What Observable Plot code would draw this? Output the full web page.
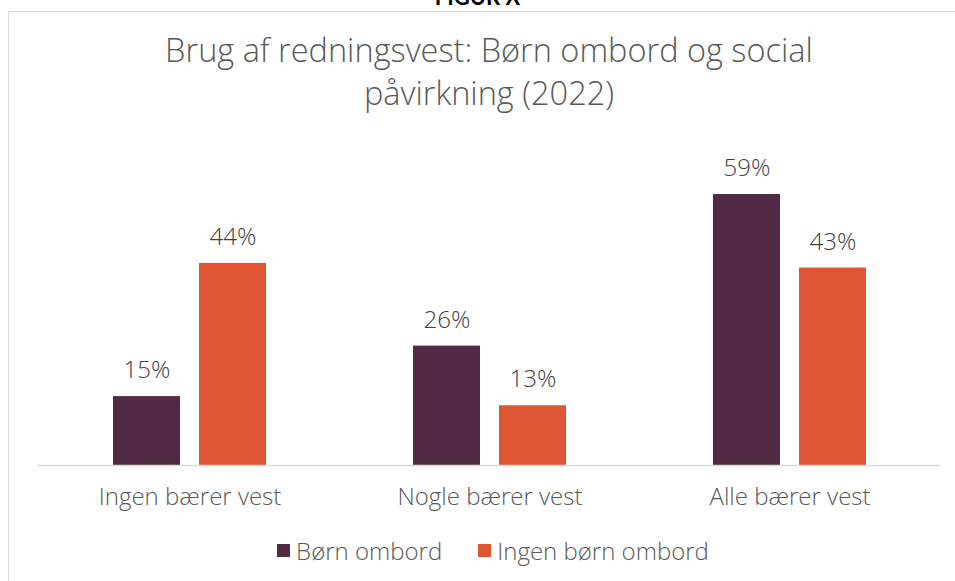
<!DOCTYPE html>
<html>
<head>
<meta charset="utf-8">
<script src="https://cdn.jsdelivr.net/npm/d3@7"></script>
<script src="https://cdn.jsdelivr.net/npm/@observablehq/plot@0.6"></script>
<style>
  html, body { margin: 0; padding: 0; background: #fff; }
  body { width: 955px; height: 581px; position: relative; overflow: hidden; font-family: "Open Sans", Lato, sans-serif; font-weight: 300; }
  #frame { position: absolute; left: 8px; top: 11px; width: 970px; height: 620px; border-top: 1.5px solid #d9d9d9; border-left: 1.5px solid #d9d9d9; }
  #fig { position: absolute; left: 0; width: 955px; top: -17px; text-align: center; font: bold 22px Lato, sans-serif; color: #000; }
  #title { position: absolute; left: 0; width: 978px; top: 28px; text-align: center; font-size: 32.5px; line-height: 43px; color: #595959; font-weight: 300; white-space: nowrap; }
  #chart { position: absolute; left: 0; top: 120px; }
  #legend { position: absolute; left: 0; width: 986px; top: 534px; display: flex; justify-content: center; gap: 36px; font-size: 24px; color: #595959; }
  .item { display: flex; align-items: center; gap: 6px; }
  .sw { width: 13px; height: 13px; display: inline-block; }
</style>
</head>
<body>
<div id="fig">FIGUR X</div>
<div id="frame"></div>
<div id="title">Brug af redningsvest: Børn ombord og social<br>påvirkning (2022)</div>
<div id="chart"></div>
<div id="legend"></div>
<script>
const categories = ["Ingen bærer vest", "Nogle bærer vest", "Alle bærer vest"];
const series = ["Børn ombord", "Ingen børn ombord"];
const bornOmbord = [15, 26, 59];
const ingenBornOmbord = [44, 13, 43];
const colors = ["#522a43", "#e05632"];

const rows1 = categories.map((c, i) => ({cat: c, value: bornOmbord[i]}));
const rows2 = categories.map((c, i) => ({cat: c, value: ingenBornOmbord[i]}));

const plot = Plot.plot({
  width: 955,
  height: 400,
  marginLeft: 38,
  marginRight: 15,
  marginTop: 23.5,
  marginBottom: 55,
  style: {fontFamily: "'Open Sans', Lato, sans-serif", fontWeight: 300, background: "transparent"},
  x: {domain: categories, paddingInner: 0.491, paddingOuter: 0.2455, axis: null},
  y: {domain: [0, 70], axis: null},
  marks: [
    Plot.barY(rows1, {x: "cat", y: "value", fill: colors[0], insetRight: 86}),
    Plot.barY(rows2, {x: "cat", y: "value", fill: colors[1], insetLeft: 86}),
    Plot.text(rows1, {x: "cat", y: "value", text: d => d.value + "%", dx: -43, dy: -26, fontSize: 24, fill: "#404040"}),
    Plot.text(rows2, {x: "cat", y: "value", text: d => d.value + "%", dx: 43, dy: -26, fontSize: 24, fill: "#404040"}),
    Plot.ruleY([0], {stroke: "#d9d9d9", strokeWidth: 1.5}),
    Plot.axisX({tickSize: 0, tickPadding: 22, fontSize: 24, color: "#595959", label: null})
  ]
});
document.getElementById("chart").appendChild(plot);

const legend = document.getElementById("legend");
series.forEach((s, i) => {
  const item = document.createElement("div");
  item.className = "item";
  const sw = document.createElement("span");
  sw.className = "sw";
  sw.style.background = colors[i];
  const t = document.createElement("span");
  t.textContent = s;
  item.appendChild(sw);
  item.appendChild(t);
  legend.appendChild(item);
});
</script>
</body>
</html>
